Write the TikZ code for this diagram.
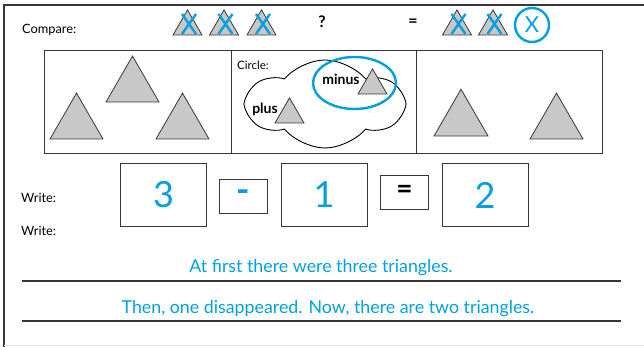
\documentclass[tikz,border=0pt]{standalone}
\usepackage{fontspec}
\setmainfont{Lato}
\usetikzlibrary{positioning,calc,shapes.symbols}

\definecolor{inkblue}{RGB}{0,160,222}
\definecolor{trigray}{RGB}{200,200,200}
\definecolor{edgegray}{RGB}{55,55,55}

\tikzset{
  trifill/.style={fill=trigray, draw=edgegray, line width=0.8pt},
  panel/.style={draw=edgegray, line width=0.9pt},
  numbox/.style={draw=edgegray, line width=0.9pt, minimum width=86pt, minimum height=63pt,
    inner sep=0pt, text=inkblue, font=\fontsize{36}{36}\selectfont},
  opbox/.style={draw=edgegray, line width=0.9pt, minimum width=48pt, minimum height=34pt, inner sep=0pt},
  crossout/.style={draw=inkblue, line width=2.4pt},
  smalltxt/.style={anchor=west, inner sep=0pt, font=\fontsize{12.8}{14}\selectfont},
  boldtxt/.style={inner sep=0pt, font=\fontsize{14}{16}\selectfont\bfseries},
  sentence/.style={inner sep=0pt, text=inkblue, font=\fontsize{17.8}{20}\selectfont},
  rule/.style={draw=edgegray, line width=2pt},
}

% triangle: base centre x, base y, side
\newcommand{\tri}[3]{\draw[trifill] ({#1-#3/2},#2) -- ({#1+#3/2},#2) -- (#1,{#2-0.866*#3}) -- cycle;}
% blue cross over a triangle
\newcommand{\xmark}[2]{\draw[crossout] ({#1-7},{#2-10}) -- ({#1+7},{#2+10}) ({#1+7},{#2-10}) -- ({#1-7},{#2+10});}

\begin{document}
\begin{tikzpicture}[x=1pt, y=-1pt]
  \useasboundingbox (0,0) rectangle (644,347);
  % frame
  \draw[edgegray, line width=1.5pt] (644,5) -- (4,5) -- (4,347);
  \draw[gray!20, line width=1pt] (4,345.5) -- (644,345.5);

  % compare row
  \node[smalltxt] (compare) at (22,30) {Compare:};
  \foreach \cx in {187.5,224,261.5,457,493} {
    \tri{\cx}{35}{29}
    \xmark{\cx+1.5}{24}
  }
  \node[boldtxt, font=\fontsize{16}{18}\selectfont\bfseries] (question) at (322,22) {?};
  \node[boldtxt, font=\fontsize{16}{18}\selectfont\bfseries] (equals) at (413,23) {=};
  \node[circle, draw=inkblue, line width=2.4pt, minimum size=34pt, inner sep=0pt,
        text=inkblue, font=\fontsize{22}{22}\selectfont] (gone) at (532,25) {X};

  % three panels
  \draw[panel] (44,50) rectangle (231,153);
  \draw[panel] (231,50) rectangle (416,153);
  \draw[panel] (416,50) rectangle (602,153);
  \tri{132.5}{102}{53}
  \tri{76.5}{139}{53}
  \tri{182.5}{139}{53}
  \tri{461}{136}{54}
  \tri{556.5}{139}{53}

  % middle panel: cloud
  \node[smalltxt, font=\fontsize{11.5}{13}\selectfont] (circlelbl) at (237,65) {Circle:};
  \node[cloud, draw=black, line width=0.9pt, cloud puffs=6, cloud puff arc=100, aspect=1.8,
        minimum width=154pt, minimum height=88pt, inner sep=0pt] (cloudset) at (325,104) {};
  \tri{372.5}{94}{29}
  \tri{289.5}{123}{29}
  \node[boldtxt] (minuslbl) at (341,79) {minus};
  \node[boldtxt] (pluslbl) at (265,109) {plus};
  \draw[inkblue, line width=2.4pt] (354.5,83) ellipse [x radius=41.5pt, y radius=26pt];

  % write row
  \node[smalltxt] (writeA) at (21,198) {Write:};
  \node[smalltxt] (writeB) at (21,231) {Write:};
  \node[numbox] (bthree) at (163.5,195) {3};
  \node[opbox, text=inkblue, font=\fontsize{36}{36}\selectfont\bfseries] (bminus) at (243.5,196) {-};
  \node[numbox] (bone) at (324,195) {1};
  \node[opbox, font=\fontsize{28}{28}\selectfont\bfseries] (beq) at (404.5,192) {=};
  \node[numbox] (btwo) at (485,195) {2};

  % sentences
  \node[sentence] (sentA) at (321,268) {At first there were three triangles.};
  \draw[rule] (22,281) -- (621,281);
  \node[sentence] (sentB) at (328,309) {Then, one disappeared. Now, there are two triangles.};
  \draw[rule] (22,321) -- (621,321);
\end{tikzpicture}
\end{document}
